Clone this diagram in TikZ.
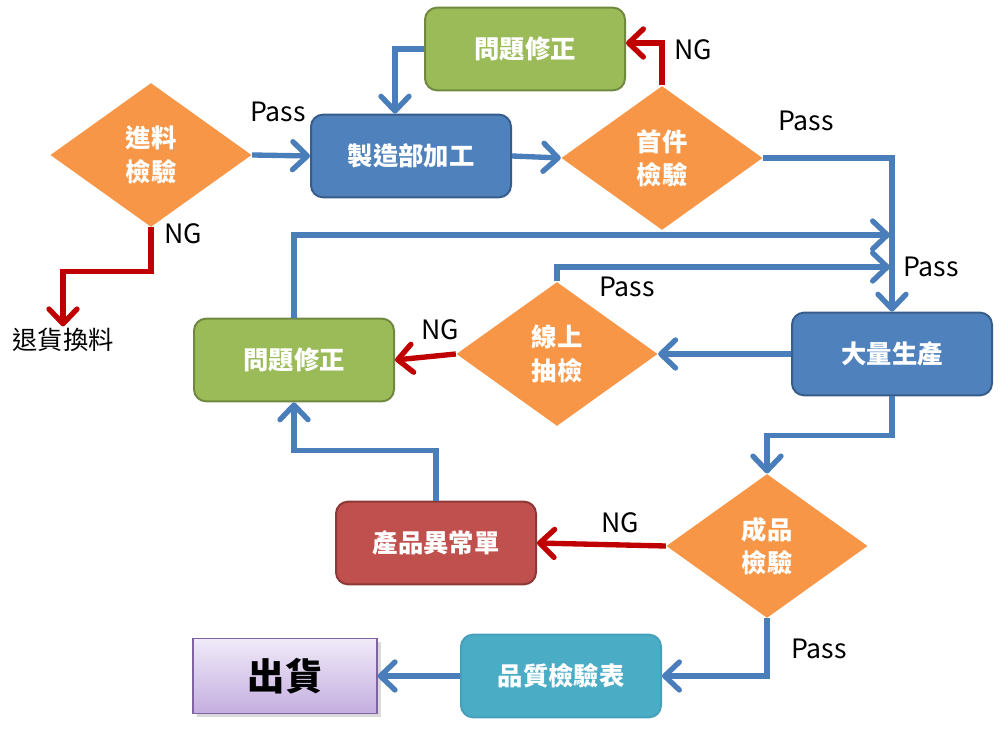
\documentclass[tikz,border=0pt]{standalone}
\usepackage{fontspec}
\setmainfont{Noto Sans CJK TC}
\usetikzlibrary{shapes.geometric,arrows.meta,shadows}

\definecolor{boxblue}{RGB}{79,129,189}
\definecolor{boxblueline}{RGB}{56,93,138}
\definecolor{boxgreen}{RGB}{155,187,89}
\definecolor{boxgreenline}{RGB}{113,137,63}
\definecolor{boxorange}{RGB}{247,150,70}
\definecolor{boxred}{RGB}{192,80,77}
\definecolor{boxredline}{RGB}{140,56,54}
\definecolor{boxteal}{RGB}{75,172,198}
\definecolor{boxtealline}{RGB}{70,160,185}
\definecolor{shiptop}{RGB}{240,234,248}
\definecolor{shipbot}{RGB}{196,174,224}
\definecolor{shipline}{RGB}{128,100,162}
\definecolor{flowblue}{RGB}{74,126,187}
\definecolor{flowred}{RGB}{192,0,0}

\tikzset{every picture/.style={line width=0.75pt},
  procbox/.style={rectangle,rounded corners=9pt,line width=1.5pt,minimum width=150pt,minimum height=62pt,
    text=white,font=\fontsize{19}{23}\selectfont\bfseries},
  checkdia/.style={diamond,aspect=1.4,fill=boxorange,inner sep=0pt,minimum width=151pt,minimum height=108pt,
    text=white,align=center,font=\fontsize{19}{25}\selectfont\bfseries},
  flow/.style={draw=flowblue,line width=4pt,->,>={Straight Barb[length=11pt,width=21pt,round]}},
  ngflow/.style={flow,draw=flowred},
  tag/.style={font=\fontsize{20}{24}\selectfont}
}

\begin{document}
\begin{tikzpicture}[x=0.75pt,y=0.75pt,yscale=-1,xscale=1]
\useasboundingbox (0,0) rectangle (1000,730);

%Shape: Diamond [incoming]
\node [checkdia] (inc) at (151,155) {進料\\檢驗};
%Shape: Rounded Rect [make]
\node [procbox,fill=boxblue,draw=boxblueline] (make) at (411,156) {製造部加工};
%Shape: Rounded Rect [fix top]
\node [procbox,fill=boxgreen,draw=boxgreenline] (fixa) at (525,49) {問題修正};
%Shape: Diamond [first article]
\node [checkdia] (first) at (662,158) {首件\\檢驗};
%Shape: Rounded Rect [mass]
\node [procbox,fill=boxblue,draw=boxblueline] (mass) at (892,354) {大量生產};
%Shape: Diamond [online]
\node [checkdia] (online) at (557,354) {線上\\抽檢};
%Shape: Rounded Rect [fix lower]
\node [procbox,fill=boxgreen,draw=boxgreenline] (fixb) at (294,360) {問題修正};
%Shape: Diamond [final]
\node [checkdia] (final) at (767,546) {成品\\檢驗};
%Shape: Rounded Rect [abnormal]
\node [procbox,fill=boxred,draw=boxredline] (abn) at (436,543) {產品異常單};
%Shape: Rounded Rect [qc sheet]
\node [procbox,fill=boxteal,draw=boxtealline] (qc) at (561,676) {品質檢驗表};
%Shape: Rect [ship]
\node [rectangle,draw=shipline,line width=1pt,top color=shiptop,bottom color=shipbot,drop shadow={opacity=0.3},
  minimum width=138pt,minimum height=56pt,font=\fontsize{28}{32}\selectfont\bfseries] (ship) at (285,676) {出貨};
% Text Node
\node [font=\fontsize{19}{23}\selectfont,inner sep=1pt] (ret) at (63,340) {退貨換料};

\coordinate (ja) at (890,235);
\coordinate (jb) at (890,267);

%Connectors
\draw [flow] (fixa.west) -| ([xshift=-12pt]make.north);
\draw [ngflow] (first.north) |- ([yshift=-4.5pt]fixa.east);
\draw [flow] (inc.east) -- (make.west);
\draw [flow] (make.east) -- (first.west);
\draw [flow] (first.east) -| (mass.north);
\draw [flow] (fixb.north) |- (ja);
\draw [flow] (online.north) |- (jb);
\draw [flow] (mass.west) -- (online.east);
\draw [ngflow] (online.west) -- (fixb.east);
\draw [flow] (mass.south) -- ++(0,39) -| (final.north);
\draw [ngflow] (final.west) -- (abn.east);
\draw [flow] (abn.north) -- ++(0,-50) -| (fixb.south);
\draw [flow] (final.south) |- (qc.east);
\draw [flow] (qc.west) -- (ship.east);
\draw [ngflow] (inc.south) -- ++(0,44) -| (ret.north);

% Text Node
\node [tag] (passa) at (278,112) {Pass};
% Text Node
\node [tag] (nga) at (183,234) {NG};
% Text Node
\node [tag] (ngb) at (693,50) {NG};
% Text Node
\node [tag] (passb) at (806,121) {Pass};
% Text Node
\node [tag] (passc) at (931,267) {Pass};
% Text Node
\node [tag] (passd) at (627,287) {Pass};
% Text Node
\node [tag] (ngc) at (440,330) {NG};
% Text Node
\node [tag] (ngd) at (620,523) {NG};
% Text Node
\node [tag] (passe) at (819,649) {Pass};

\end{tikzpicture}
\end{document}
